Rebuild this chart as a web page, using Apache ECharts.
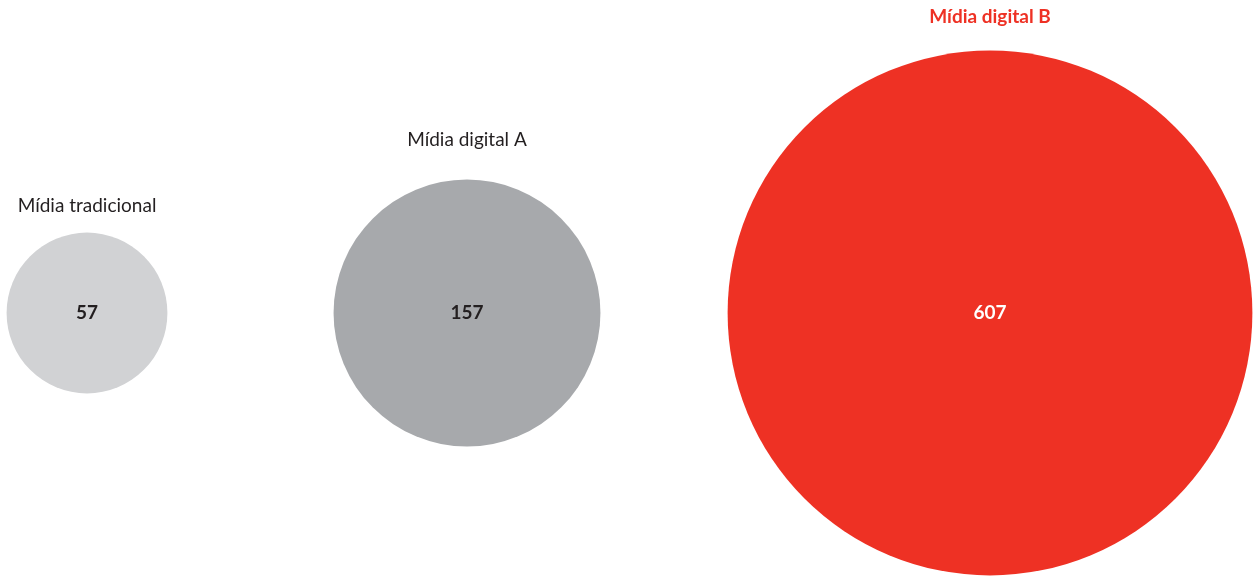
<!DOCTYPE html>
<html>
<head>
<meta charset="utf-8">
<script src="https://cdn.jsdelivr.net/npm/echarts@6/dist/echarts.min.js"></script>
<style>
html,body{margin:0;padding:0;background:#fff;}
#main{width:1255px;height:578px;}
</style>
</head>
<body>
<div id="main"></div>
<script>
var categories = ['Mídia tradicional', 'Mídia digital A', 'Mídia digital B'];
var values = [57, 157, 607];
var centerX = [87, 467, 990];
var centerY = [313, 313, 313];

var colors = ['#d1d2d4', '#a7a9ac', '#ee3124'];
var valueColors = ['#231f20', '#231f20', '#ffffff'];
var nameColors = ['#231f20', '#231f20', '#ee3124'];
var nameWeights = ['normal', 'normal', 'bold'];
var nameGaps = [17, 30, 24];
var k = 10.65;

function bubbleSize(v) {
	return 2 * k * Math.sqrt(v);
}

var bubbles = [];
var names = [];
for (var i = 0; i < values.length; i++) {
	bubbles.push({
		name: categories[i],
		value: [centerX[i], centerY[i], values[i]],
		itemStyle: { color: colors[i], opacity: 1 },
		label: { color: valueColors[i] }
	});
	names.push({
		name: categories[i],
		value: [centerX[i], centerY[i], values[i]],
		label: { color: nameColors[i], fontWeight: nameWeights[i], distance: nameGaps[i] }
	});
}

var myChart = echarts.init(document.getElementById('main'));
var option = {
	animation: false,
	grid: { left: 0, right: 0, top: 0, bottom: 0 },
	xAxis: { type: 'value', min: 0, max: 1255, show: false },
	yAxis: { type: 'value', min: 0, max: 578, inverse: true, show: false },
	series: [{
		type: 'scatter',
		data: bubbles,
		symbolSize: function (d) { return bubbleSize(d[2]); },
		itemStyle: { opacity: 1 },
		label: {
			show: true,
			position: 'inside',
			formatter: function (p) { return p.value[2]; },
			fontFamily: 'Lato',
			fontWeight: 'bold',
			fontSize: 19
		},
		emphasis: { disabled: true }
	}, {
		type: 'scatter',
		data: names,
		symbolSize: function (d) { return bubbleSize(d[2]); },
		itemStyle: { color: 'rgba(0,0,0,0)', opacity: 1 },
		label: {
			show: true,
			position: 'top',
			formatter: '{b}',
			fontFamily: 'Lato',
			fontSize: 19
		},
		emphasis: { disabled: true },
		silent: true
	}]
};
myChart.setOption(option);
</script>
</body>
</html>
